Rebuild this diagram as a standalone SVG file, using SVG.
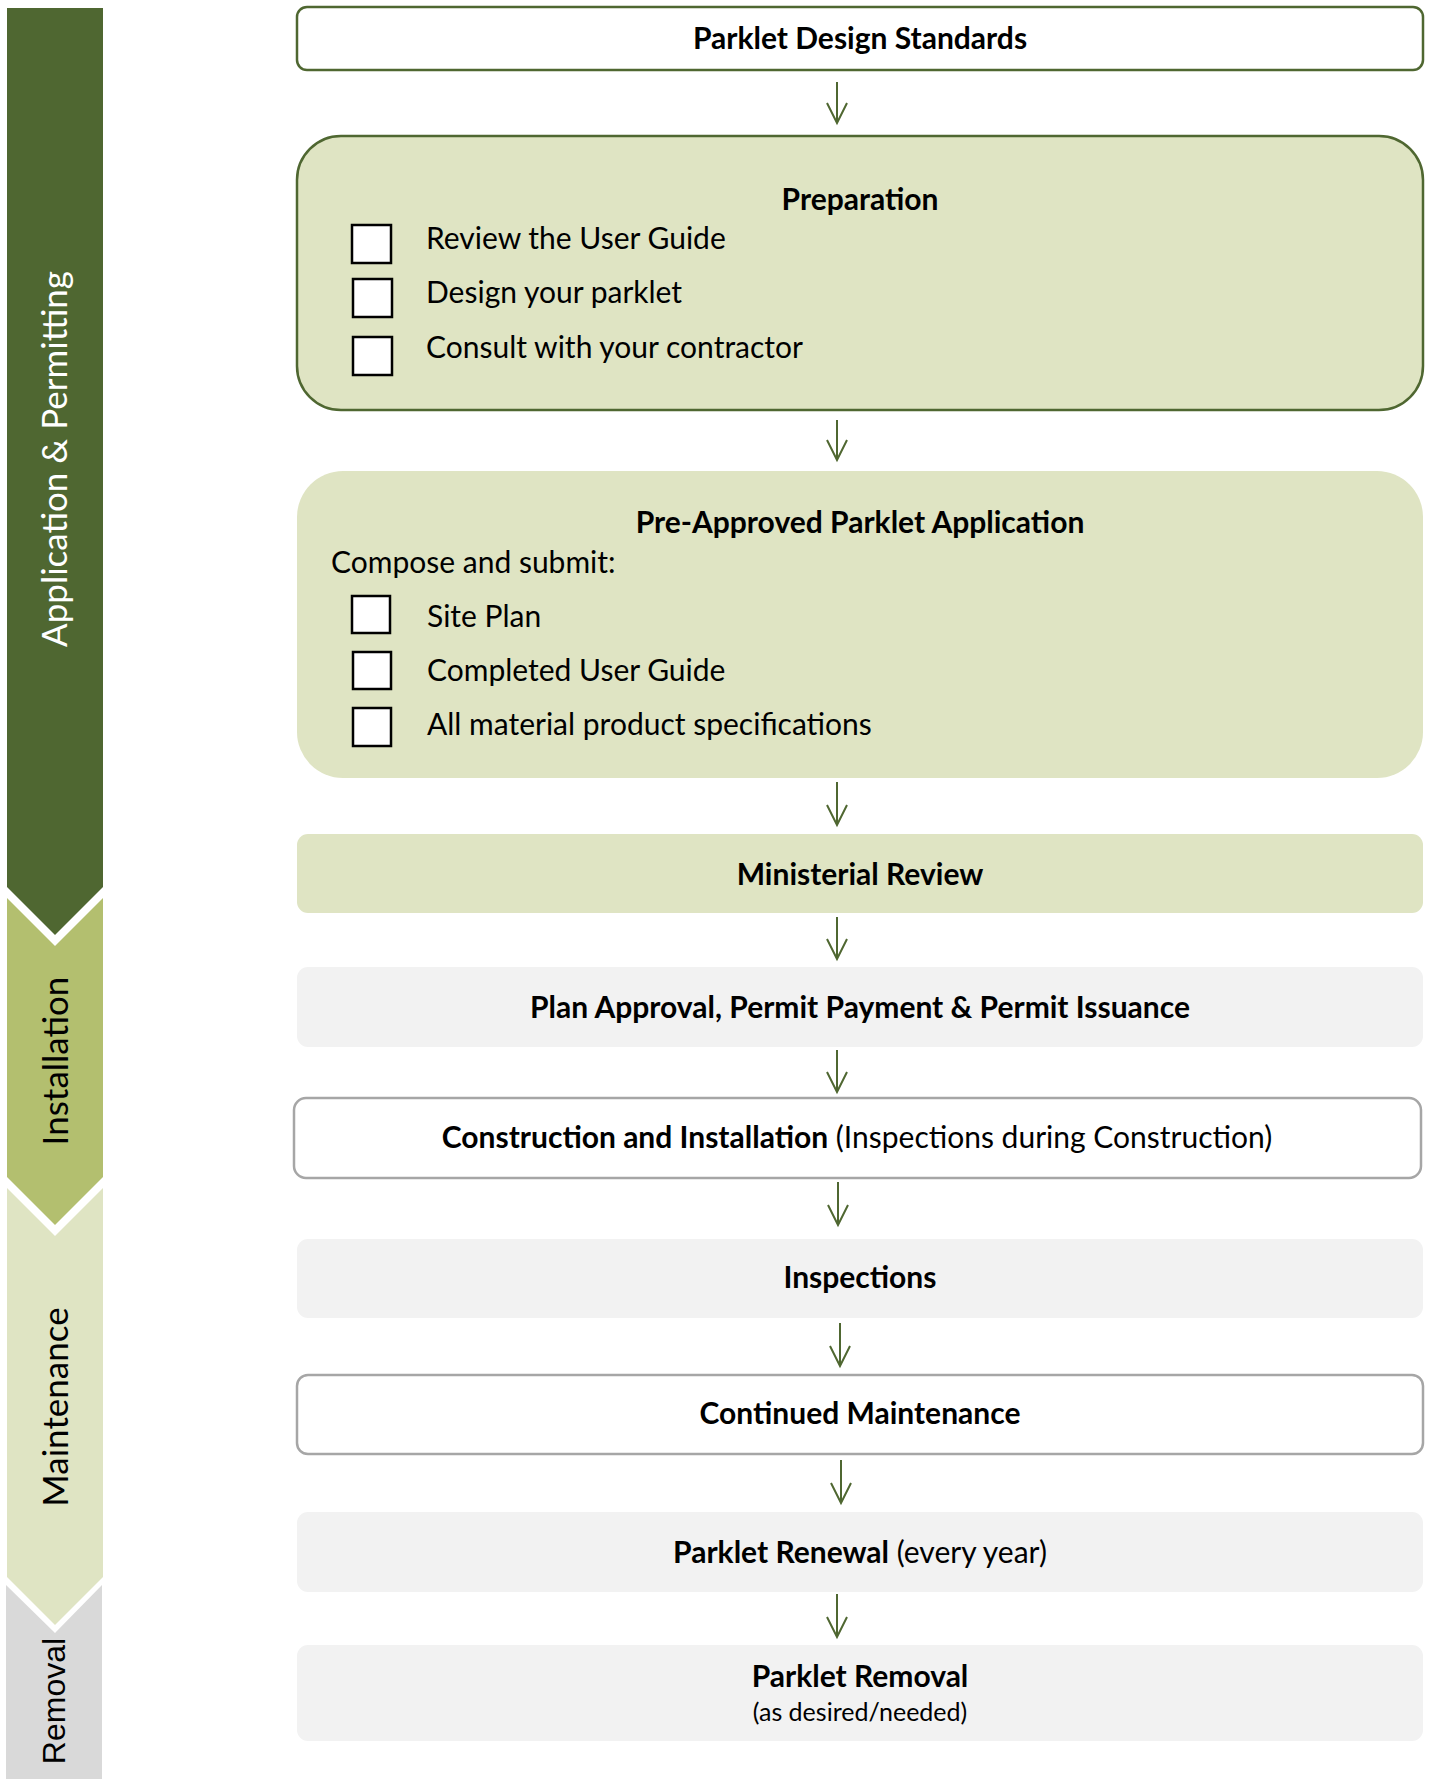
<svg xmlns="http://www.w3.org/2000/svg" width="1432" height="1779" viewBox="0 0 1432 1779">
<style>
.t{font-family:Lato,"Liberation Sans",sans-serif;font-size:30px;fill:#000}
.b{font-weight:bold}
.c{text-anchor:middle}
.side{font-family:Lato,"Liberation Sans",sans-serif;font-size:35px;text-anchor:middle}
.green{fill:#DFE4C3}
.grey{fill:#F2F2F2}
.gs{fill:#fff;stroke:#4F6731;stroke-width:2.5}
.ss{fill:#fff;stroke:#A6A6A6;stroke-width:2.5}
.chk{fill:#fff;stroke:#000;stroke-width:2.5}
.arr{stroke:#4F6731;stroke-width:2;fill:none;marker-end:url(#ah)}
</style>
<defs>
<marker id="ah" markerUnits="userSpaceOnUse" viewBox="-22 -12 24 24" refX="0" refY="0" markerWidth="24" markerHeight="24" orient="auto" overflow="visible">
<path d="M-20,-10 L0,0 L-20,10" fill="none" stroke="#4F6731" stroke-width="2"/>
</marker>
</defs>
<rect width="1432" height="1779" fill="#fff"/>
<g id="sidebar">
<g id="phase-application">
<polygon points="7,8 103,8 103,887 55,935 7,887" fill="#4F6731"/>
<text class="side" transform="translate(67,459) rotate(-90)" fill="#fff">Application &amp; Permitting</text>
</g>
<g id="phase-installation">
<polygon points="7,898 55,946 103,898 103,1177 55,1225 7,1177" fill="#B3BF6F"/>
<text class="side" transform="translate(68,1061) rotate(-90)" fill="#000">Installation</text>
</g>
<g id="phase-maintenance">
<polygon points="7,1188 55,1236 103,1188 103,1577 55,1625 7,1577" fill="#DFE4C3"/>
<text class="side" transform="translate(68,1407) rotate(-90)" fill="#000">Maintenance</text>
</g>
<g id="phase-removal">
<polygon points="6,1585 55,1633 102,1585 102,1779 6,1779" fill="#D9D9D9"/>
<text transform="translate(65,1701) rotate(-90)" font-family="'Liberation Sans',Arial,sans-serif" font-size="32" text-anchor="middle" fill="#000">Removal</text>
</g>
</g>
<g id="connectors">
<line class="arr" x1="837" y1="82" x2="837" y2="123"/>
<line class="arr" x1="837" y1="420" x2="837" y2="460"/>
<line class="arr" x1="837" y1="782" x2="837" y2="825"/>
<line class="arr" x1="837" y1="917" x2="837" y2="959"/>
<line class="arr" x1="837" y1="1050" x2="837" y2="1092"/>
<line class="arr" x1="838" y1="1182" x2="838" y2="1225"/>
<line class="arr" x1="840" y1="1323" x2="840" y2="1366"/>
<line class="arr" x1="841" y1="1460" x2="841" y2="1503"/>
<line class="arr" x1="837" y1="1594" x2="837" y2="1637"/>
</g>
<g id="design-standards">
<rect class="gs" x="297" y="7" width="1126" height="63" rx="10"/>
<text class="t b c" x="860" y="49">Parklet Design Standards</text>
</g>
<g id="preparation">
<rect x="297" y="136" width="1126" height="274" rx="44" fill="#DFE4C3" stroke="#4F6731" stroke-width="2.5"/>
<text class="t b c" x="860" y="210">Preparation</text>
<rect class="chk" x="352" y="225" width="39" height="38"/>
<rect class="chk" x="353" y="279" width="39" height="38"/>
<rect class="chk" x="353" y="337" width="39" height="38"/>
<text class="t" x="426" y="249">Review the User Guide</text>
<text class="t" x="426" y="303">Design your parklet</text>
<text class="t" x="426" y="358">Consult with your contractor</text>
</g>
<g id="application">
<rect class="green" x="297" y="471" width="1126" height="307" rx="46"/>
<text class="t b c" x="860" y="533">Pre-Approved Parklet Application</text>
<text class="t" x="331" y="573">Compose and submit:</text>
<rect class="chk" x="352" y="596" width="38" height="37"/>
<rect class="chk" x="353" y="652" width="38" height="37"/>
<rect class="chk" x="353" y="708" width="38" height="38"/>
<text class="t" x="427" y="627">Site Plan</text>
<text class="t" x="427" y="681">Completed User Guide</text>
<text class="t" x="427" y="735">All material product specifications</text>
</g>
<g id="ministerial-review">
<rect class="green" x="297" y="834" width="1126" height="79" rx="11"/>
<text class="t b c" x="860" y="885">Ministerial Review</text>
</g>
<g id="plan-approval">
<rect class="grey" x="297" y="967" width="1126" height="80" rx="11"/>
<text class="t b c" x="860" y="1018">Plan Approval, Permit Payment &amp; Permit Issuance</text>
</g>
<g id="construction">
<rect class="ss" x="294" y="1098" width="1127" height="80" rx="12"/>
<text class="t c" x="857" y="1148"><tspan class="b">Construction and Installation</tspan> (Inspections during Construction)</text>
</g>
<g id="inspections">
<rect class="grey" x="297" y="1239" width="1126" height="79" rx="11"/>
<text class="t b c" x="860" y="1288">Inspections</text>
</g>
<g id="continued-maintenance">
<rect class="ss" x="297" y="1375" width="1126" height="79" rx="11"/>
<text class="t b c" x="860" y="1424">Continued Maintenance</text>
</g>
<g id="renewal">
<rect class="grey" x="297" y="1512" width="1126" height="80" rx="11"/>
<text class="t c" x="860" y="1563"><tspan class="b">Parklet Renewal</tspan> (every year)</text>
</g>
<g id="removal">
<rect class="grey" x="297" y="1645" width="1126" height="96" rx="11"/>
<text class="t b c" x="860" y="1687">Parklet Removal</text>
<text class="t c" x="860" y="1721" style="font-size:25px">(as desired/needed)</text>
</g>
</svg>
